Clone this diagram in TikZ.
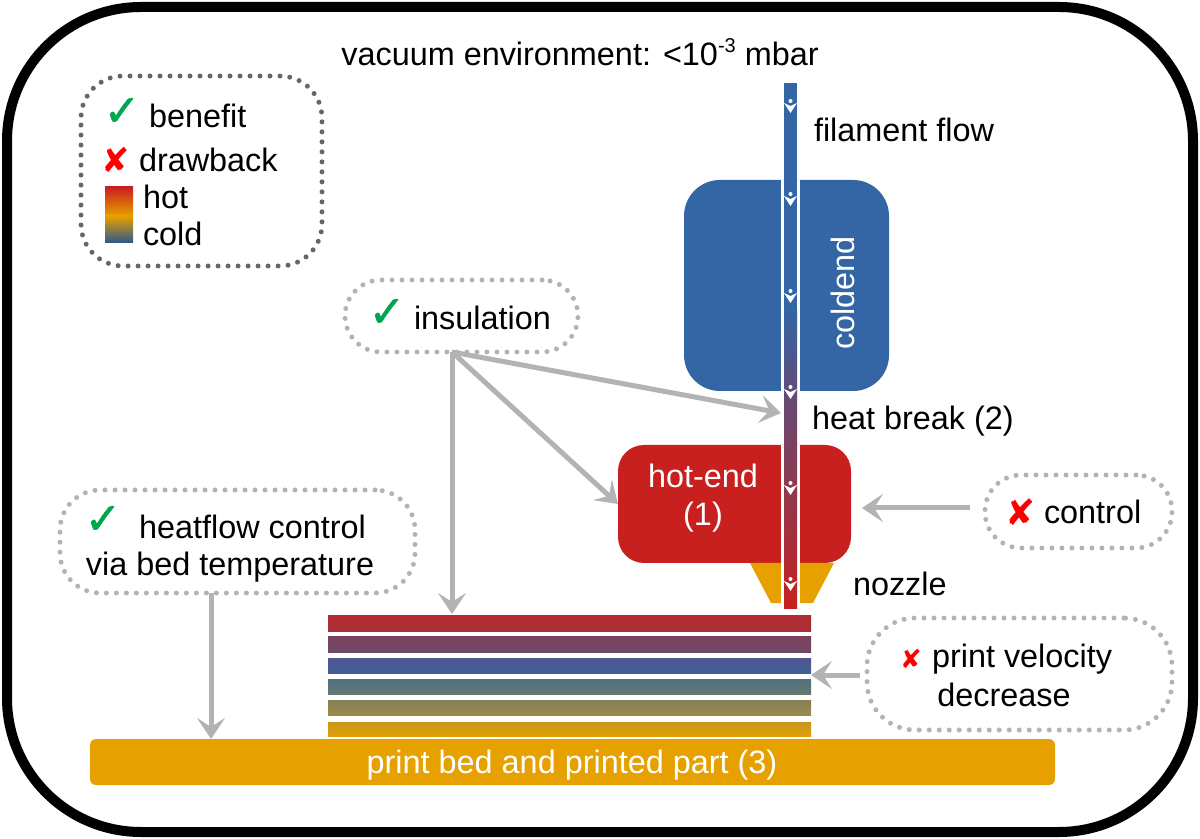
\documentclass[tikz,border=0pt]{standalone}
\usepackage{fontspec}
\setmainfont{Liberation Sans}
\newfontfamily\symfont{DejaVu Sans}
\newfontfamily\oksymfont[FakeBold=1.2]{DejaVu Sans}
\usetikzlibrary{arrows.meta,calc}
\definecolor{cblue}{HTML}{3465A4}
\definecolor{cred}{HTML}{C8201E}
\definecolor{cgold}{HTML}{E6A000}
\definecolor{cpurple}{HTML}{654A74}
\definecolor{cgreen}{HTML}{00A64F}
\definecolor{cgray}{HTML}{B3B3B3}
\definecolor{cdark}{HTML}{666666}
\definecolor{laa}{HTML}{B42A30}\definecolor{lab}{HTML}{A83038}
\definecolor{lba}{HTML}{7C4060}\definecolor{lbb}{HTML}{6E4866}
\definecolor{lca}{HTML}{4F5790}\definecolor{lcb}{HTML}{425F98}
\definecolor{lda}{HTML}{4F7080}\definecolor{ldb}{HTML}{667870}
\definecolor{lea}{HTML}{857E58}\definecolor{leb}{HTML}{9C8B48}
\definecolor{lfa}{HTML}{C8961E}\definecolor{lfb}{HTML}{E2A004}
\tikzset{
  every node/.style={inner sep=0pt,outer sep=0pt,font=\fontsize{16.2}{19}\selectfont},
  label/.style={anchor=west,text=black},
  wlabel/.style={text=white,align=center},
  okmark/.style={text=cgreen,font=\oksymfont\fontsize{#1}{#1}\selectfont},
  nomark/.style={text=red,font=\symfont\fontsize{#1}{#1}\selectfont},
  dotbox/.style={draw=cgray,line width=2.5pt,line cap=round,dash pattern=on 0pt off 5pt,rounded corners=#1},
  flow/.style={draw=cgray,line width=2.5pt,-{Stealth[length=10.5pt,width=14pt,inset=4.5pt]}},
}
\begin{document}
\begin{tikzpicture}[x=0.5pt,y=-0.5pt]
\useasboundingbox (0,0) rectangle (1200,839);
% frame
\draw[line width=5pt,rounded corners=67pt] (7,7) rectangle (1193,832);
\node at (580,52) {vacuum environment: <10\raisebox{.42em}{\fontsize{10}{10}\selectfont -3} mbar};

% legend
\node[dotbox=21pt,draw=cdark,minimum width=120.5pt,minimum height=95pt] (legend) at (201.5,171) {};
\node[okmark=22] (lgok) at (122,112) {✓};
\node[label] (lgbenefit) at (149,116) {benefit};
\node[nomark=17] (lgno) at (116,160) {✘};
\node[label] (lgdraw) at (139,160) {drawback};
\shade[top color=cred,bottom color=cgold] (105,187) rectangle (133,216);
\shade[top color=cgold,bottom color=cblue!85!black] (105,216) rectangle (133,243);
\node[label] (lghot) at (143,197) {hot};
\node[label] (lgcold) at (143,234) {cold};

% coldend and hot-end
\node[fill=cblue,rounded corners=18pt,minimum width=102.5pt,minimum height=105.5pt] (coldend) at (786.5,285.5) {};
\node[fill=cred,rounded corners=13pt,minimum width=116.5pt,minimum height=59pt] (hotend) at (734.5,504) {};
\fill[cgold] (750,563) -- (834,563) -- (813,603) -- (771,603) -- cycle;
\fill[white] (781,180) rectangle (800,391);
\fill[white] (781,445) rectangle (800,604);

% filament
\fill[cblue] (784,83) rectangle (797,310);
\shade[top color=cblue,bottom color=cpurple] (784,310) rectangle (797,400);
\shade[top color=cpurple,bottom color=cred] (784,400) rectangle (797,608);
\foreach \yy in {101,194,291,387,483,579}{
  \fill[white] (790.5,\yy) circle (1pt);
  \fill[white] (784,\yy+2) -- (790.5,\yy+5) -- (797,\yy+2) -- (790.5,\yy+12) -- cycle;
}
\node[wlabel,rotate=90] (coldtext) at (843,293) {coldend};
\node[wlabel] (hottext) at (703,498) {hot-end\\[0pt](1)};
\node[label] (filflow) at (814,130) {filament flow};
\node[label] (heatbreak) at (812,421) {heat break (2)};
\node[label] (nozzle) at (853,584) {nozzle};

% layers
\shade[top color=laa,bottom color=lab] (328,615) rectangle (811,631);
\shade[top color=lba,bottom color=lbb] (328,636) rectangle (811,652);
\shade[top color=lca,bottom color=lcb] (328,658) rectangle (811,673);
\shade[top color=lda,bottom color=ldb] (328,679) rectangle (811,694);
\shade[top color=lea,bottom color=leb] (328,700) rectangle (811,715);
\shade[top color=lfa,bottom color=lfb] (328,722) rectangle (811,736);
\coordinate (layertop) at (452,614);
\coordinate (layerside) at (811,675);
\node[fill=cgold,rounded corners=3pt,minimum width=482.5pt,minimum height=23pt] (bed) at (572.5,762) {};
\node[wlabel] (bedtext) at (572,765) {print bed and printed part (3)};

% insulation
\node[dotbox=18pt,minimum width=116.5pt,minimum height=36pt] (insul) at (461.5,316) {};
\node[okmark=22] (insok) at (387,313) {✓};
\node[label] (instext) at (414,318) {insulation};
\coordinate (insfoot) at (452,352);
\coordinate (breakpt) at (781,413);
\draw[flow] (insfoot) -- (breakpt);
\draw[flow] (insfoot) -- (hotend.west);
\draw[flow] (insfoot) -- (layertop);

% heatflow
\node[dotbox=20pt,minimum width=177.5pt,minimum height=51.5pt] (heat) at (237.5,541.5) {};
\node[okmark=22] (heatok) at (103,520) {✓};
\node[label] (heat1) at (139,527) {heatflow control};
\node (heat2) at (230,567) {via bed temperature};
\coordinate (heatfoot) at (211,593);
\coordinate (bedtop) at (211,739);
\draw[flow] (heatfoot) -- (bedtop);

% control
\node[dotbox=18pt,minimum width=93.5pt,minimum height=36.5pt] (control) at (1078.5,511.5) {};
\node[nomark=18] (ctrlno) at (1021,512) {✘};
\node[label] (ctrltext) at (1044,512) {control};
\coordinate (ctrlstart) at (970,508);
\coordinate (hotright) at (862,508);
\draw[flow] (ctrlstart) -- (hotright);

% velocity
\node[dotbox=24pt,minimum width=152.5pt,minimum height=56pt] (velo) at (1019.5,674) {};
\node[nomark=13] (velono) at (911,659) {✘};
\node[label] (velo1) at (932,659) {print velocity};
\node (velo2) at (1004,695) {decrease};
\coordinate (velostart) at (860,675);
\draw[flow] (velostart) -- (layerside);
\end{tikzpicture}
\end{document}
